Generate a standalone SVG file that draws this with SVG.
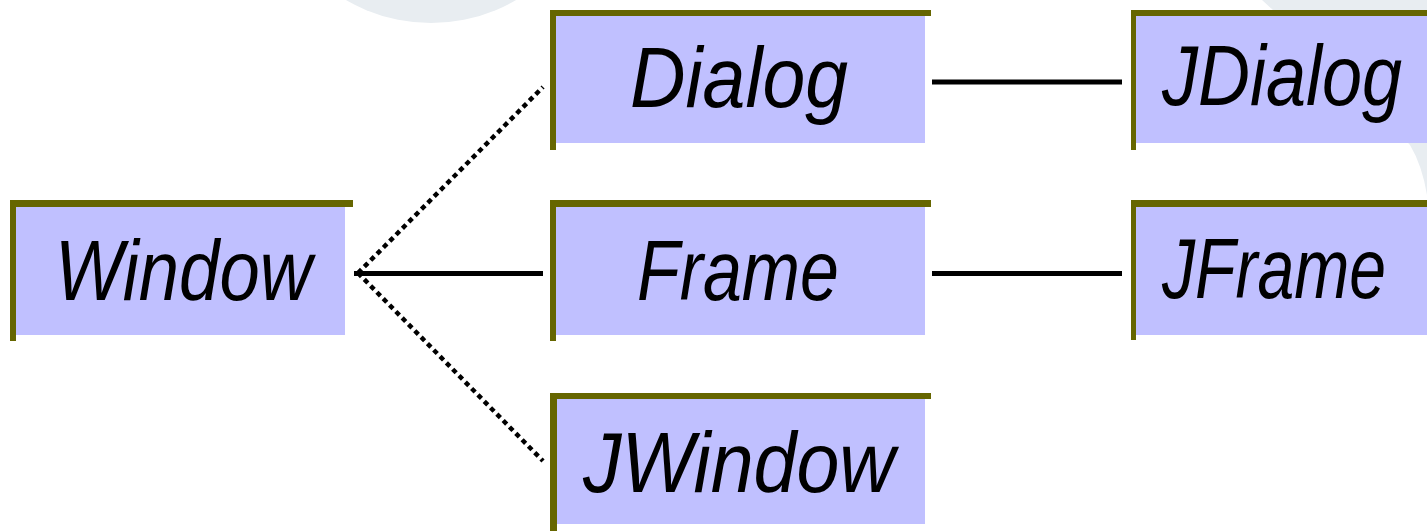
<svg xmlns="http://www.w3.org/2000/svg" width="1427" height="531" viewBox="0 0 1427 531">
  <style>
    .fill { fill: #C0C0FF; }
    .edge { fill: #666600; }
    .label { font-family: "Liberation Sans", "DejaVu Sans", sans-serif; font-style: italic; font-size: 86px; fill: #000000; text-anchor: middle; }
    .solid { stroke: #000000; stroke-width: 5; fill: none; }
    .dotted { stroke: #000000; stroke-width: 4.5; stroke-dasharray: 5 4; fill: none; }
    .bg { fill: #E8EDF1; }
  </style>
  <rect x="0" y="0" width="1427" height="531" fill="#FFFFFF"/>
  <g id="background">
    <circle class="bg" cx="431" cy="-146" r="169"/>
    <path class="bg" d="M1262,0 Q1360,90 1410,145 Q1422,165 1427,195 L1427,0 Z"/>
  </g>
  <g id="connectors">
    <line class="solid" x1="354" y1="273.5" x2="543" y2="273.5"/>
    <line class="dotted" x1="358" y1="273" x2="543" y2="87"/>
    <line class="dotted" x1="358" y1="273" x2="543" y2="461"/>
    <line class="solid" x1="932" y1="82" x2="1122" y2="82"/>
    <line class="solid" x1="932" y1="273.5" x2="1122" y2="273.5"/>
  </g>
  <g id="node-window">
    <rect class="fill" x="15" y="207" width="330" height="128"/>
    <rect class="edge" x="10" y="200" width="343" height="7"/>
    <rect class="edge" x="10" y="200" width="6" height="141"/>
    <text class="label" x="183.5" y="300" textLength="257" lengthAdjust="spacingAndGlyphs">Window</text>
  </g>
  <g id="node-dialog">
    <rect class="fill" x="556" y="16" width="369" height="127"/>
    <rect class="edge" x="550" y="10" width="381" height="6"/>
    <rect class="edge" x="550" y="10" width="6" height="140"/>
    <text class="label" x="739" y="107" textLength="218" lengthAdjust="spacingAndGlyphs">Dialog</text>
  </g>
  <g id="node-frame">
    <rect class="fill" x="556" y="207" width="369" height="128"/>
    <rect class="edge" x="550" y="200" width="381" height="7"/>
    <rect class="edge" x="550" y="200" width="6" height="141"/>
    <text class="label" x="738" y="300" textLength="202" lengthAdjust="spacingAndGlyphs">Frame</text>
  </g>
  <g id="node-jwindow">
    <rect class="fill" x="557" y="399" width="368" height="125"/>
    <rect class="edge" x="550" y="393" width="381" height="6"/>
    <rect class="edge" x="550" y="393" width="7" height="138"/>
    <text class="label" x="739" y="492" textLength="312" lengthAdjust="spacingAndGlyphs">JWindow</text>
  </g>
  <g id="node-jdialog">
    <rect class="fill" x="1136" y="16" width="291" height="127"/>
    <rect class="edge" x="1131" y="10" width="296" height="6"/>
    <rect class="edge" x="1131" y="10" width="5" height="140"/>
    <text class="label" x="1282" y="105" textLength="240" lengthAdjust="spacingAndGlyphs">JDialog</text>
  </g>
  <g id="node-jframe">
    <rect class="fill" x="1136" y="207" width="291" height="128"/>
    <rect class="edge" x="1131" y="200" width="296" height="7"/>
    <rect class="edge" x="1131" y="200" width="5" height="140"/>
    <text class="label" x="1274" y="298" textLength="224" lengthAdjust="spacingAndGlyphs">JFrame</text>
  </g>
</svg>
